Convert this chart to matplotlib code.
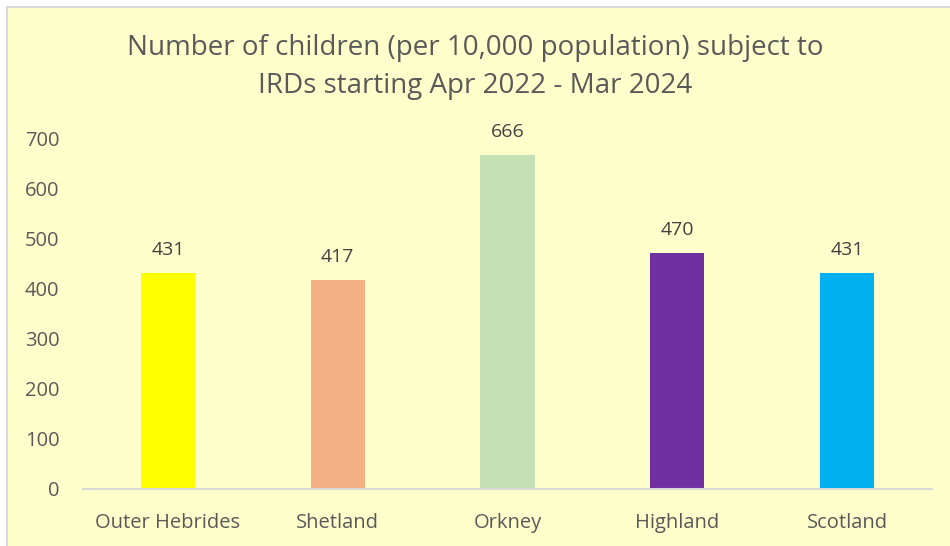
import matplotlib
matplotlib.use("Agg")
import matplotlib.pyplot as plt
from matplotlib.patches import Rectangle

categories = ["Outer Hebrides", "Shetland", "Orkney", "Highland", "Scotland"]
values = [431, 417, 666, 470, 431]
colors = ["#FFFF00", "#F4B183", "#C5E0B4", "#7030A0", "#00B0F0"]
yticks = [0, 100, 200, 300, 400, 500, 600, 700]

plt.rcParams['font.family'] = ['Open Sans', 'DejaVu Sans']
txt = "#595959"
bg = "#FFFFCC"

fig = plt.figure(figsize=(9.5, 5.46), dpi=100)
fig.patch.set_facecolor("white")
fig.patches.append(Rectangle((7/950, -0.01), 1.0, (546-7)/546 + 0.01, transform=fig.transFigure,
                             facecolor=bg, edgecolor="#D9D9D9", linewidth=1.5, zorder=-10))

ax = fig.add_axes([83/950, (546-489)/546, (932-83)/950, (489-138)/546])
ax.set_facecolor("none")
x = range(len(categories))
bars = ax.bar(x, values, width=0.32, color=colors)
for xi, v in zip(x, values):
    ax.text(xi, v + 28, str(v), ha="center", va="bottom", fontsize=14, color="#404040")
ax.set_xlim(-0.5, len(categories) - 0.5)
ax.set_ylim(0, 700)
ax.set_yticks(yticks)
ax.set_xticks(list(x))
ax.set_xticklabels(categories)
ax.tick_params(axis="both", length=0, colors=txt, labelsize=14.5)
ax.tick_params(axis="x", pad=17)
ax.tick_params(axis="y", pad=17)
for s in ["top", "right", "left"]:
    ax.spines[s].set_visible(False)
ax.spines["bottom"].set_color("#D9D9D9")
ax.spines["bottom"].set_linewidth(1.5)

fig.text(0.5, 1 - 67/546, "Number of children (per 10,000 population) subject to\nIRDs starting Apr 2022 - Mar 2024",
         ha="center", va="center", fontsize=20, color=txt, linespacing=1.45)

fig.savefig("out.png", dpi=100, facecolor=fig.get_facecolor())
